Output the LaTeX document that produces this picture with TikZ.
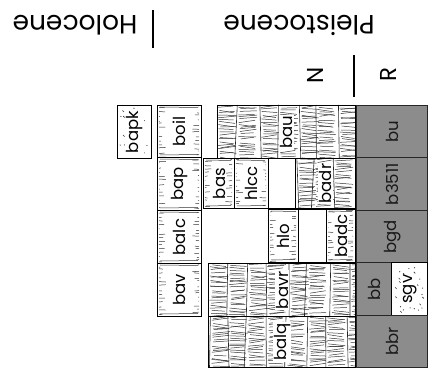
\documentclass[tikz,border=0pt]{standalone}
\usepackage{fontspec}
\setmainfont{Poppins}
\tikzset{
  strk/.style={line width=0.5pt, black!80},
  crack/.style={line width=0.6pt, black!85},
  unitbox/.style={draw=black, line width=1.3pt},
  graybox/.style={draw=black!85, line width=1.3pt, fill=black!45},
  lab/.style={rotate=90, font=\fontsize{16.5}{16.5}\selectfont, inner sep=1pt, fill=white},
  glab/.style={rotate=90, font=\fontsize{16.5}{16.5}\selectfont, inner sep=1pt, text=black!90},
  hdr/.style={rotate=180, font=\fontsize{26.5}{26.5}\selectfont, inner sep=0pt},
  mag/.style={rotate=90, font=\fontsize{23}{23}\selectfont, inner sep=0pt},
  bar/.style={line width=2pt, black}
}
\newcommand\densefill[4]{%
  \begin{scope}
  \clip (#1,#2) rectangle (#3,#4);
  \pgfmathsetmacro\dA{#2+2}\pgfmathsetmacro\dB{#2+4.5}
  \pgfmathsetmacro\nc{int((#3-#1)/20)}
  \foreach \cc in {0,...,\nc}{%
    \pgfmathsetmacro\cx{#1+\cc*20+3*rand}
    \pgfmathsetmacro\cxb{\cx+3*rand}
    \draw[crack] (\cx,#2) -- (\cxb,#4);
    \foreach \yy in {\dA,\dB,...,#4}{%
      \pgfmathsetmacro\ya{\yy+1.2*rand}
      \pgfmathsetmacro\yb{\ya+2.5*rand}
      \pgfmathsetmacro\xa{\cx+1+3*rnd}
      \pgfmathsetmacro\xb{\cx+20-4*rnd}
      \draw[strk] (\xa,\ya) -- (\xb,\yb);
    }
  }
  \end{scope}}
\newcommand\sparsefill[4]{%
  \begin{scope}
  \clip (#1,#2) rectangle (#3,#4);
  \pgfmathsetmacro\dA{#2+3}\pgfmathsetmacro\dB{#2+7}
  \foreach \yy in {\dA,\dB,...,#4}{%
    \pgfmathsetmacro\ya{\yy+1.5*rand}
    \pgfmathsetmacro\la{#1+2+7*rnd}
    \pgfmathsetmacro\yc{\yy+1.5*rand}
    \pgfmathsetmacro\ra{#3-2-7*rnd}
    \draw[strk] (#1+2,\ya) -- (\la,\ya+0.5*rand);
    \draw[strk] (\ra,\yc) -- (#3-2,\yc+0.5*rand);
  }
  \draw[strk] (#1+3,#2+2) -- (#3-3,#2+2.5);
  \draw[strk] (#1+3,#4-2) -- (#3-3,#4-2.5);
  \end{scope}}
\newcommand\speckfill[5]{%
  \begin{scope}
  \clip (#1,#2) rectangle (#3,#4);
  \foreach \i in {1,...,#5}{%
    \pgfmathsetmacro\px{#1+3+(#3-#1-6)*rnd}
    \pgfmathsetmacro\py{#2+3+(#4-#2-6)*rnd}
    \fill[black!80] (\px,\py) circle (0.6pt);
    \pgfmathsetmacro\qx{#1+3+(#3-#1-6)*rnd}
    \pgfmathsetmacro\qy{#2+3+(#4-#2-6)*rnd}
    \draw[line width=0.6pt, black!80] (\qx,\qy) -- ++(1.5,1.5);
  }
  \end{scope}}
% \unitb{name}{x1}{y1}{x2}{y2}{label}
\newcommand\unitb[6]{%
  \node[unitbox, minimum width={#4-#2}, minimum height={#5-#3}, anchor=north west, inner sep=0pt] (#1) at (#2,#3) {};
  \node[lab] (#1-l) at (#1.center) {#6};}
\newcommand\unitg[6]{%
  \node[graybox, minimum width={#4-#2}, minimum height={#5-#3}, anchor=north west, inner sep=0pt] (#1) at (#2,#3) {};
  \node[glab] (#1-l) at (#1.center) {#6};}
\newcommand\unite[5]{%
  \node[unitbox, minimum width={#4-#2}, minimum height={#5-#3}, anchor=north west, inner sep=0pt] (#1) at (#2,#3) {};}
\begin{document}
\begin{tikzpicture}[x=1pt,y=-1pt]
\pgfmathsetseed{7}
\useasboundingbox (0,0) rectangle (432,377);
% headers
\node[hdr] (pleis) at (299,25) {Pleistocene};
\node[hdr] (holo) at (75,25) {Holocene};
\draw[bar] (153,10) -- (153,48);
\node[mag] (nn) at (315,75) {N};
\node[mag] (rr) at (388,75) {R};
\draw[bar] (354,55) -- (354,97);
% fills
\densefill{217}{105}{355}{158}
\densefill{295}{158}{355}{209}
\densefill{208}{263}{355}{316}
\densefill{208}{316}{355}{367}
\sparsefill{157}{105}{201}{157}
\sparsefill{157}{157}{201}{210}
\sparsefill{157}{210}{201}{263}
\sparsefill{157}{263}{201}{316}
\sparsefill{203}{158}{234}{208}
\sparsefill{234}{158}{268}{208}
\sparsefill{268}{209}{298}{262}
\sparsefill{326}{209}{355}{262}
\speckfill{117}{105}{151}{158}{14}
\speckfill{391}{262}{426}{315}{16}
% boxes
\unitb{bapk}{117}{105}{151}{158}{bapk}
\unitb{boil}{157}{105}{201}{157}{boil}
\unitb{bap}{157}{157}{201}{210}{bap}
\unitb{balc}{157}{210}{201}{263}{balc}
\unitb{bav}{157}{263}{201}{316}{bav}
\unitb{bau}{217}{105}{355}{158}{bau}
\unitb{bas}{203}{158}{234}{208}{bas}
\unitb{hlcc}{234}{158}{268}{208}{hlcc}
\unite{e1}{268}{158}{295}{208}
\unitb{badr}{295}{158}{355}{208}{badr}
\unitb{hlo}{268}{209}{298}{262}{hlo}
\unite{e2}{298}{209}{326}{262}
\unitb{badc}{326}{209}{355}{262}{badc}
\unitb{bavr}{208}{263}{355}{316}{bavr}
\unitb{balq}{208}{316}{355}{367}{balq}
\unitg{bu}{356}{105}{427}{157}{bu}
\unitg{b3511}{356}{157}{427}{210}{b3511}
\unitg{bgd}{356}{210}{427}{262}{bgd}
\unitg{bb}{356}{262}{391}{315}{bb}
\unitb{sgv}{391}{262}{427}{315}{sgv}
\unitg{bbr}{356}{315}{427}{367}{bbr}
\end{tikzpicture}
\end{document}
